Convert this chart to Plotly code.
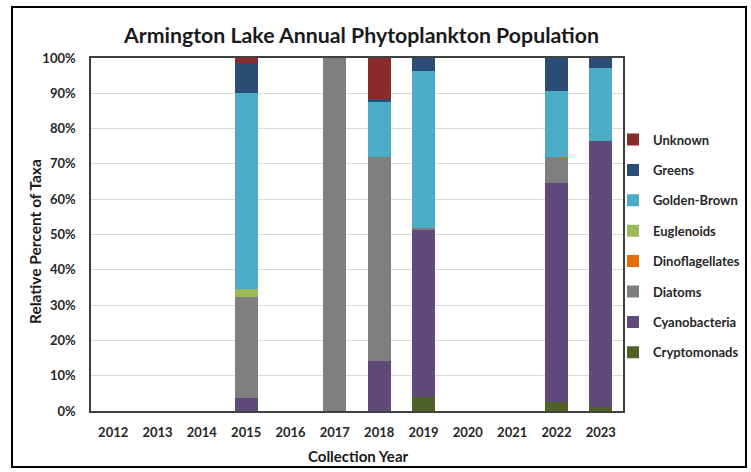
import plotly.graph_objects as go

years = ["2012", "2013", "2014", "2015", "2016", "2017", "2018", "2019", "2020", "2021", "2022", "2023"]

# Relative percent of taxa per year (stacked, bottom to top)
cryptomonads    = [0, 0, 0, 0.0, 0, 0,   0.0,  3.9, 0, 0,  2.6,  1.2]
cyanobacteria   = [0, 0, 0, 3.6, 0, 0,  14.1, 47.6, 0, 0, 61.9, 75.4]
diatoms         = [0, 0, 0, 28.6, 0, 100, 57.9, 0.3, 0, 0,  7.3,  0.0]
dinoflagellates = [0, 0, 0, 0.0, 0, 0,   0.0,  0.0, 0, 0,  0.2,  0.0]
euglenoids      = [0, 0, 0, 2.4, 0, 0,   0.0,  0.0, 0, 0,  0.0,  0.0]
golden_brown    = [0, 0, 0, 55.6, 0, 0, 15.6, 44.6, 0, 0, 18.7, 20.7]
greens          = [0, 0, 0, 8.3, 0, 0,   0.7,  3.6, 0, 0,  9.3,  2.7]
unknown         = [0, 0, 0, 1.5, 0, 0,  11.7,  0.0, 0, 0,  0.0,  0.0]

series = [
    ("Cryptomonads", cryptomonads, "#4F6228"),
    ("Cyanobacteria", cyanobacteria, "#604A7B"),
    ("Diatoms", diatoms, "#7F7F7F"),
    ("Dinoflagellates", dinoflagellates, "#E46C0A"),
    ("Euglenoids", euglenoids, "#9BBB59"),
    ("Golden-Brown", golden_brown, "#4BACC6"),
    ("Greens", greens, "#2C4D75"),
    ("Unknown", unknown, "#8B2C2C"),
]

FONT = "Lato"
L, R, T, B = 91, 623, 58, 411
PW, PH = R - L, B - T

fig = go.Figure()
n = len(series)
for i, (name, vals, color) in enumerate(series):
    fig.add_trace(go.Bar(
        x=years, y=[v / 100 for v in vals], name=name,
        marker=dict(color=color, line=dict(width=0)),
        legendgroup=name,
        legendrank=n - i,
    ))

fig.update_layout(
    barmode="stack",
    bargap=0.48,
    width=751, height=472,
    margin=dict(l=L, r=751 - R, t=T, b=472 - B, autoexpand=False),
    paper_bgcolor="white",
    plot_bgcolor="white",
    font=dict(family=FONT, color="#262626"),
    legend=dict(
        x=(613 - L) / PW, xanchor="left", y=0.8115, yanchor="top",
        traceorder="grouped",
        tracegroupgap=10.5,
        font=dict(family=FONT, size=13, color="#262626", weight="bold"),
        itemwidth=30,
        bgcolor="rgba(0,0,0,0)",
    ),
    xaxis=dict(
        type="category",
        showgrid=False,
        showline=True, linecolor="#404040", linewidth=1.5, mirror=True,
        ticks="", tickfont=dict(family=FONT, size=13, color="#262626", weight="bold"),
        ticklabelstandoff=9,
        automargin=False,
    ),
    yaxis=dict(
        range=[0, 1],
        tickvals=[i / 10 for i in range(11)],
        ticktext=[f"{i*10}%" for i in range(11)],
        showgrid=True, gridcolor="#D9D9D9", gridwidth=1,
        showline=True, linecolor="#404040", linewidth=1.5, mirror=True,
        ticks="", tickfont=dict(family=FONT, size=13, color="#262626", weight="bold"),
        ticklabelstandoff=11,
        zeroline=False,
        automargin=False,
    ),
    annotations=[
        dict(
            text="Armington Lake Annual Phytoplankton Population",
            xref="paper", yref="paper",
            x=(361 - L) / PW, y=(B - 35) / PH,
            xanchor="center", yanchor="middle", showarrow=False,
            font=dict(family=FONT, size=21.3, color="#1a1a1a", weight="bold"),
        ),
        dict(
            text="Relative Percent of Taxa",
            xref="paper", yref="paper",
            x=(35 - L) / PW, y=(B - 242) / PH,
            xanchor="center", yanchor="middle", showarrow=False, textangle=-90,
            font=dict(family=FONT, size=15.5, color="#1a1a1a", weight="bold"),
        ),
        dict(
            text="Collection Year",
            xref="paper", yref="paper",
            x=(358 - L) / PW, y=(B - 456) / PH,
            xanchor="center", yanchor="middle", showarrow=False,
            font=dict(family=FONT, size=15, color="#1a1a1a", weight="bold"),
        ),
    ],
    shapes=[dict(
        type="rect", xref="paper", yref="paper",
        x0=(12 - L) / PW, x1=(746 - L) / PW,
        y0=(B - 467) / PH, y1=(B - 7) / PH,
        line=dict(color="black", width=2), fillcolor="rgba(0,0,0,0)", layer="below",
    )],
)

fig.write_html("out.html")
